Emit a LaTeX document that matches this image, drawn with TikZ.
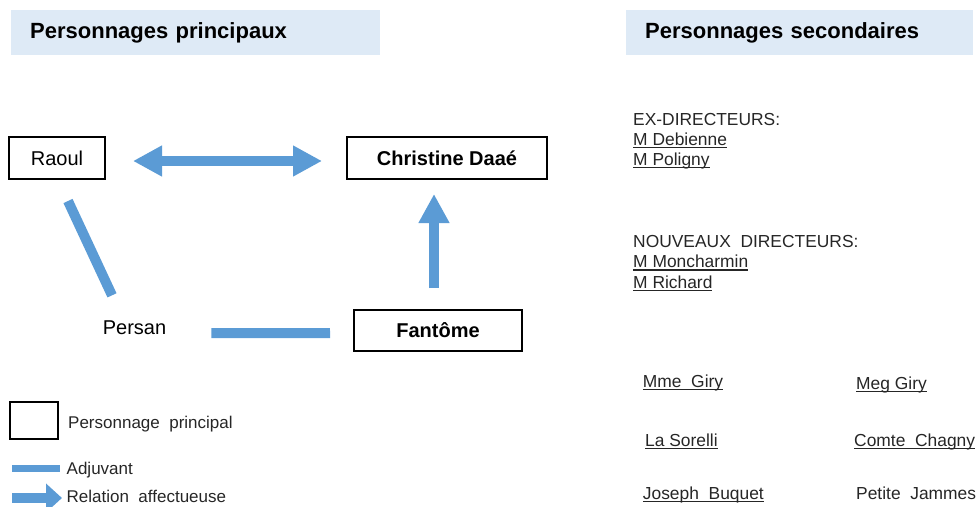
\documentclass[tikz,border=0pt]{standalone}
\usepackage{fontspec}
\setmainfont{Liberation Sans}
\usetikzlibrary{arrows.meta}
\definecolor{relblue}{HTML}{5B9BD5}
\definecolor{headfill}{HTML}{DEEAF6}
\definecolor{txtgray}{HTML}{262626}
\newcommand{\ulname}[1]{\setbox0=\hbox{#1}\rlap{\rule[-3pt]{\wd0}{1.1pt}}\box0}
\begin{document}
\begin{tikzpicture}[x=1pt,y=-1pt,
  headbox/.style={fill=headfill, draw=none, anchor=west, inner ysep=0pt, inner xsep=19pt,
    minimum height=45pt, align=left, font=\fontsize{22}{26}\selectfont\bfseries, text=black},
  mainbox/.style={draw=black, line width=2pt, inner sep=0pt, minimum height=42pt,
    font=\fontsize{20}{24}\selectfont, text=black},
  plainname/.style={inner sep=0pt, font=\fontsize{20}{24}\selectfont, text=black},
  adjuvant/.style={draw=relblue, line width=10pt},
  affect/.style={draw=relblue, line width=10pt},
  bigtip/.tip={Triangle[length=29pt,width=29pt]},
  smalltip/.tip={Triangle[length=16pt,width=28pt]},
  legtext/.style={anchor=base west, inner sep=0pt, font=\fontsize{17}{20}\selectfont, text=txtgray},
  sidetext/.style={anchor=base west, inner sep=0pt, font=\fontsize{17.4}{20}\selectfont, text=txtgray}
]
\useasboundingbox (0,0) rectangle (977,506);

% headers
\node[headbox, text width=331pt] (h1) at (11,32.5) {Personnages principaux};
\node[headbox, text width=309pt] (h2) at (626,32.5) {Personnages secondaires};

% main characters
\node[mainbox, minimum width=96pt] (raoul) at (57,158) {Raoul};
\node[mainbox, minimum width=200pt, font=\fontsize{20}{24}\selectfont\bfseries] (christine) at (447,158) {Christine Daaé};
\node[mainbox, minimum width=168pt, minimum height=41pt, font=\fontsize{20}{24}\selectfont\bfseries] (fantome) at (438,330.5) {Fantôme};
\node[plainname, anchor=base] (persan) at (134.5,334) {Persan};

% relations
\draw[affect, {bigtip}-{bigtip}] ([xshift=27pt,yshift=-3pt]raoul.east) -- ([xshift=-24pt,yshift=-3pt]christine.west);
\draw[affect, -{bigtip}] ([xshift=-4pt,yshift=21pt]fantome.north) -- ([xshift=-13pt,yshift=-14pt]christine.south);
\draw[adjuvant] ([xshift=11pt,yshift=-21pt]raoul.south) -- ([xshift=-22.5pt,yshift=24.7pt]persan.north);
\draw[adjuvant] ([xshift=45pt,yshift=-6pt]persan.east) -- ([xshift=-23pt,yshift=-2.5pt]fantome.west);

% legend
\node[draw=black, line width=2pt, minimum width=48pt, minimum height=37pt, inner sep=0pt] (legbox) at (34,420.5) {};
\node[legtext] (legboxtxt) at (68,428) {Personnage\ \ principal};
\coordinate (adjA) at (12,468.5);
\coordinate (adjB) at (60,468.5);
\draw[adjuvant, line width=7pt] (adjA) -- (adjB);
\node[legtext] (adjtxt) at (66.5,474) {Adjuvant};
\coordinate (affA) at (12,498);
\coordinate (affB) at (62,498);
\draw[affect, -{smalltip}] (affA) -- (affB);
\node[legtext] (afftxt) at (66.5,502.5) {Relation\ \ affectueuse};

% secondary characters
\node[sidetext] (exdir) at (633,125) {EX-DIRECTEURS:};
\node[sidetext] (debienne) at (633,145) {\ulname{M Debienne}};
\node[sidetext] (poligny) at (633,165) {\ulname{M Poligny}};
\node[sidetext] (nouv) at (633,247.5) {NOUVEAUX\ \ DIRECTEURS:};
\node[sidetext] (moncharmin) at (633,267.5) {\ulname{M Moncharmin}};
\node[sidetext] (richard) at (633,288) {\ulname{M Richard}};
\node[sidetext] (mmegiry) at (642.7,387) {\ulname{Mme\ \ Giry}};
\node[sidetext] (meggiry) at (856,389) {\ulname{Meg Giry}};
\node[sidetext] (sorelli) at (645,446) {\ulname{La Sorelli}};
\node[sidetext] (chagny) at (854,446) {\ulname{Comte\ \ Chagny}};
\node[sidetext] (buquet) at (642.7,499) {\ulname{Joseph\ \ Buquet}};
\node[sidetext] (jammes) at (856,499) {Petite\ \ Jammes};
\end{tikzpicture}
\end{document}
